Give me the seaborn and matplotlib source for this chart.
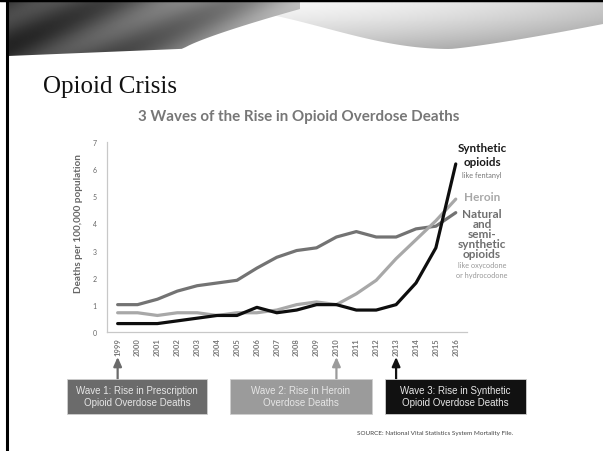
import numpy as np
import pandas as pd
import matplotlib
matplotlib.use("Agg")
import matplotlib.pyplot as plt
import seaborn as sns
from matplotlib.patches import Rectangle
from matplotlib.path import Path
from matplotlib.patches import PathPatch

# ---------------- data ----------------
years = [1999, 2000, 2001, 2002, 2003, 2004, 2005, 2006, 2007, 2008,
         2009, 2010, 2011, 2012, 2013, 2014, 2015, 2016]
natural = [1.0, 1.0, 1.2, 1.5, 1.7, 1.8, 1.9, 2.35, 2.75, 3.0,
           3.1, 3.5, 3.7, 3.5, 3.5, 3.8, 3.9, 4.4]
heroin = [0.7, 0.7, 0.6, 0.7, 0.7, 0.6, 0.7, 0.7, 0.8, 1.0,
          1.1, 1.0, 1.4, 1.9, 2.7, 3.4, 4.1, 4.9]
synthetic = [0.3, 0.3, 0.3, 0.4, 0.5, 0.6, 0.6, 0.9, 0.7, 0.8,
             1.0, 1.0, 0.8, 0.8, 1.0, 1.8, 3.1, 6.2]
series = ["Natural and semi-synthetic opioids", "Heroin", "Synthetic opioids"]
y_ticks = [0, 1, 2, 3, 4, 5, 6, 7]
wave_years = [1999, 2010, 2013]
wave_labels = ["Wave 1: Rise in Prescription\nOpioid Overdose Deaths",
               "Wave 2: Rise in Heroin\nOverdose Deaths",
               "Wave 3: Rise in Synthetic\nOpioid Overdose Deaths"]

colors = {"Natural and semi-synthetic opioids": "#737373",
          "Heroin": "#a8a8a8",
          "Synthetic opioids": "#0e0e0e"}
wave_colors = ["#6b6b6b", "#9b9b9b", "#111111"]

df = pd.DataFrame({
    "year": years * 3,
    "rate": natural + heroin + synthetic,
    "series": [series[0]] * len(years) + [series[1]] * len(years) + [series[2]] * len(years),
})

# ---------------- figure ----------------
sns.set_theme(style="white")
plt.rcParams["font.family"] = ["Lato", "DejaVu Sans"]
W, H = 603, 452
fig = plt.figure(figsize=(W / 100, H / 100), dpi=100)
fig.patch.set_facecolor("white")

# background decoration axes (pixel coordinates, y down)
bg = fig.add_axes([0, 0, 1, 1], zorder=0)
bg.set_xlim(0, W)
bg.set_ylim(H, 0)
bg.axis("off")

# banner: light right swoosh (2-D gradient, clipped)
gx, gy = np.meshgrid(np.linspace(0, 1, 300), np.linspace(0, 1, 60))
g2 = 0.97 - 0.30 * gy ** 1.5 - 0.18 * gx ** 2
im2 = bg.imshow(g2, cmap="gray", extent=[200, 603, 60, 3], aspect="auto",
                vmin=0, vmax=1, zorder=1, interpolation="bilinear")
xs2 = np.linspace(200, 603, 100)
t = (xs2 - 200) / 403
bot2 = 8 + 42 * np.sin(np.clip(t / 0.62, 0, 1) * np.pi / 2) ** 2
bot2 = np.where(t > 0.62, 50 - 25 * ((t - 0.62) / 0.38) ** 1.2, bot2)
verts2 = [(200, 3)] + list(zip(xs2, bot2)) + [(603, 3), (200, 3)]
clip2 = PathPatch(Path(verts2), transform=bg.transData, facecolor="none", edgecolor="none")
bg.add_patch(clip2)
im2.set_clip_path(clip2)

# banner: dark left swoosh
gx1, gy1 = np.meshgrid(np.linspace(0, 1, 300), np.linspace(0, 1, 60))
g1 = 0.22 + 0.45 * gx1 ** 1.3 + 0.08 * np.sin(gx1 * 14 + gy1 * 6)
im = bg.imshow(g1, cmap="gray", extent=[8, 300, 60, 3], aspect="auto",
               vmin=0, vmax=1, zorder=2, interpolation="bilinear")
xs = np.linspace(8, 300, 80)
u = (xs - 8) / 292
bottom = 57 - 12 * u - 35 * np.clip((u - 0.6) / 0.4, 0, 1) ** 0.8
verts = [(8, 3)] + list(zip(xs, bottom)) + [(300, 3), (8, 3)]
clip = PathPatch(Path(verts), transform=bg.transData, facecolor="none", edgecolor="none")
bg.add_patch(clip)
im.set_clip_path(clip)

# frame lines
bg.plot([7, 7], [0, H], color="black", lw=2.2, zorder=3)
bg.plot([0, W], [1, 1], color="black", lw=2.5, zorder=3)

# slide title
fig.text(43 / W, 1 - 93 / H, "Opioid Crisis", family=["Liberation Serif"],
         fontsize=18, color="#111111", va="baseline", ha="left")

# chart title
fig.text(298.5 / W, 1 - 117 / H, "3 Waves of the Rise in Opioid Overdose Deaths",
         fontsize=10.9, fontweight="bold", color="#777777", ha="center", va="center")

# ---------------- main chart ----------------
ax = fig.add_axes([106.7 / W, 1 - 332.7 / H, 360 / W, (332.7 - 143.3) / H], zorder=2)
ax.patch.set_alpha(0)
sns.lineplot(data=df, x="year", y="rate", hue="series", palette=colors,
             linewidth=2.3, legend=False, ax=ax, sort=False)
ax.set_xlim(1998.45, 2016.55)
ax.set_ylim(0, 7)
ax.set_yticks(y_ticks)
ax.set_yticklabels([str(t) for t in y_ticks], fontsize=5, color="#666666")
ax.set_xticks(years)
ax.set_xticklabels([str(y) for y in years], rotation=90, fontsize=5.5,
                   fontweight="bold", color="#777777")
ax.set_xticks([y + 0.5 for y in [years[0] - 1] + years], minor=True)
ax.tick_params(axis="x", which="major", length=0, pad=4)
ax.tick_params(axis="x", which="minor", length=3, color="#c8c8c8", width=0.8)
ax.tick_params(axis="y", which="major", length=3, color="#c8c8c8", width=0.8, pad=4)
for s in ["top", "right"]:
    ax.spines[s].set_visible(False)
for s in ["left", "bottom"]:
    ax.spines[s].set_color("#c8c8c8")
    ax.spines[s].set_linewidth(0.9)
ax.set_xlabel("")
ax.set_ylabel("Deaths per 100,000 population", fontsize=7.2, fontweight="bold",
              color="#666666")
ax.yaxis.set_label_coords(-0.067, 0.574)
ax.grid(False)

# right-hand labels
def rt(y, s, size, color, bold=True):
    fig.text(482 / W, 1 - y / H, s, fontsize=size, color=color,
             fontweight="bold" if bold else "normal", ha="center", va="center")

rt(149, "Synthetic", 8.4, "#1a1a1a")
rt(163, "opioids", 8.4, "#1a1a1a")
rt(175.5, "like fentanyl", 5.3, "#777777", bold=False)
rt(198, "Heroin", 8.5, "#a8a8a8")
rt(215, "Natural", 8.5, "#6f6f6f")
rt(225, "and", 8.5, "#6f6f6f")
rt(235, "semi-", 8.5, "#6f6f6f")
rt(245, "synthetic", 8.5, "#6f6f6f")
rt(255, "opioids", 8.5, "#6f6f6f")
rt(265.5, "like oxycodone", 5.3, "#999999", bold=False)
rt(275.5, "or hydrocodone", 5.3, "#999999", bold=False)

# ---------------- wave boxes and arrows ----------------
box_x = [67, 230, 385]
box_w = [140, 141.7, 140.7]
box_top, box_bot = 380, 415
for i in range(3):
    x0 = box_x[i]
    rect = Rectangle((x0 / W, 1 - box_bot / H), box_w[i] / W, (box_bot - box_top) / H,
                     transform=fig.transFigure, facecolor=wave_colors[i],
                     edgecolor="#cfcfcf", linewidth=0.6, zorder=3)
    fig.add_artist(rect)
    fig.text((x0 + box_w[i] / 2) / W, 1 - 397.5 / H, wave_labels[i],
             family=["Liberation Sans"], fontsize=7.0, color="#e6e6e6",
             ha="center", va="center", linespacing=1.25, zorder=4)
    ax.annotate("", xy=(wave_years[i], H - 358), xycoords=("data", "figure pixels"),
                xytext=(wave_years[i], H - box_top), textcoords=("data", "figure pixels"),
                arrowprops=dict(arrowstyle="-|>,head_length=0.45,head_width=0.2",
                                color=wave_colors[i], lw=1.6, shrinkA=0, shrinkB=0),
                annotation_clip=False)

fig.text(357 / W, 1 - 434 / H, "SOURCE: National Vital Statistics System Mortality File.",
         fontsize=4.6, color="#444444", ha="left", va="center")

fig.savefig("out.png", dpi=100)
